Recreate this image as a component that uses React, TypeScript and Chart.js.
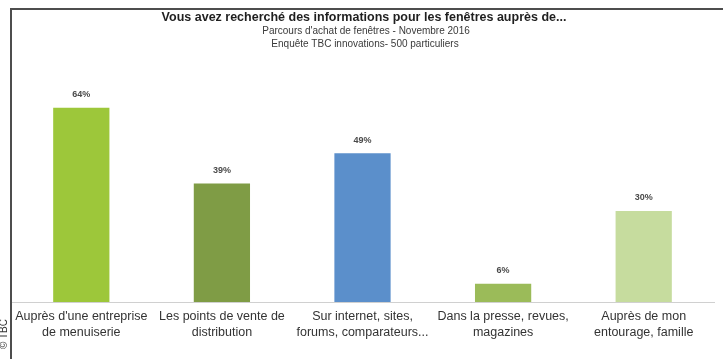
import React, { useEffect, useRef } from "react";
import { Chart, registerables } from "chart.js";

Chart.register(...registerables);

const titleLines = [
  "Vous avez recherché des informations pour les fenêtres auprès de...",
  "Parcours d'achat de fenêtres - Novembre 2016",
  "Enquête TBC innovations- 500 particuliers",
];

const categories: string[][] = [
  ["Auprès d'une entreprise", "de menuiserie"],
  ["Les points de vente de", "distribution"],
  ["Sur internet, sites,", "forums, comparateurs..."],
  ["Dans la presse, revues,", "magazines"],
  ["Auprès de mon", "entourage, famille"],
];

const values = [64, 39, 49, 6, 30];

const barColors = ["#9dc73a", "#7f9c45", "#5b8fcb", "#9bbb59", "#c6dc9e"];

const FONT = "'Liberation Sans', Arial, sans-serif";

export default function App() {
  const ref = useRef<HTMLCanvasElement | null>(null);

  useEffect(() => {
    if (!ref.current) return;
    const valueLabels = {
      id: "valueLabels",
      afterDatasetsDraw(chart: any) {
        const ctx = chart.ctx;
        const meta = chart.getDatasetMeta(0);
        ctx.save();
        ctx.fillStyle = "#4a4a4a";
        ctx.font = `bold 9px ${FONT}`;
        ctx.textAlign = "center";
        ctx.textBaseline = "middle";
        meta.data.forEach((bar: any, i: number) => {
          ctx.fillText(values[i] + "%", bar.x, bar.y - 13);
        });
        ctx.restore();
      },
    };
    const titles = {
      id: "titles",
      afterDraw(chart: any) {
        const ctx = chart.ctx;
        ctx.save();
        ctx.fillStyle = "#1f1f1f";
        ctx.textAlign = "center";
        ctx.textBaseline = "middle";
        ctx.font = `bold 12.5px ${FONT}`;
        ctx.fillText(titleLines[0], 364, 18);
        ctx.fillStyle = "#3a3a3a";
        ctx.font = `10px ${FONT}`;
        ctx.fillText(titleLines[1], 366, 31);
        ctx.fillText(titleLines[2], 365, 44);
        ctx.restore();
      },
    };
    const chart = new Chart(ref.current, {
      type: "bar",
      data: {
        labels: categories,
        datasets: [
          {
            data: values,
            backgroundColor: barColors,
            categoryPercentage: 1,
            barPercentage: 0.4,
          },
        ],
      },
      options: {
        animation: false,
        responsive: false,
        maintainAspectRatio: false,
        layout: { padding: { top: 50, left: 11, right: 9, bottom: 0 } },
        plugins: {
          legend: { display: false },
          tooltip: { enabled: false },
          title: { display: false },
        },
        scales: {
          x: {
            grid: { display: false, drawTicks: false },
            border: { display: true, color: "#d0d0d0", width: 1 },
            afterFit(scale: any) {
              scale.height = 57;
            },
            ticks: {
              padding: 6,
              color: "#333333",
              font: { family: FONT, size: 12.5, lineHeight: 1.3 },
              maxRotation: 0,
              autoSkip: false,
            },
          },
          y: {
            display: false,
            min: 0,
            max: 83,
          },
        },
      },
      plugins: [valueLabels, titles],
    });
    return () => chart.destroy();
  }, []);

  return (
    <div style={{ position: "absolute", left: 0, top: 0, width: 723, height: 359, background: "#fff", overflow: "hidden" }}>
      <canvas ref={ref} width={723} height={359} style={{ position: "absolute", left: 0, top: 0 }} />
      <div
        style={{
          position: "absolute",
          left: 10,
          top: 8,
          width: 713,
          height: 351,
          borderTop: "2px solid #4d4d4d",
          borderLeft: "2px solid #4d4d4d",
          boxSizing: "border-box",
          pointerEvents: "none",
        }}
      />
      <div
        style={{
          position: "absolute",
          left: -16,
          top: 329,
          width: 40,
          height: 10,
          transform: "rotate(-90deg)",
          fontFamily: FONT,
          fontSize: 10,
          lineHeight: "10px",
          color: "#333",
          textAlign: "center",
          whiteSpace: "nowrap",
        }}
      >
        © TBC
      </div>
    </div>
  );
}
